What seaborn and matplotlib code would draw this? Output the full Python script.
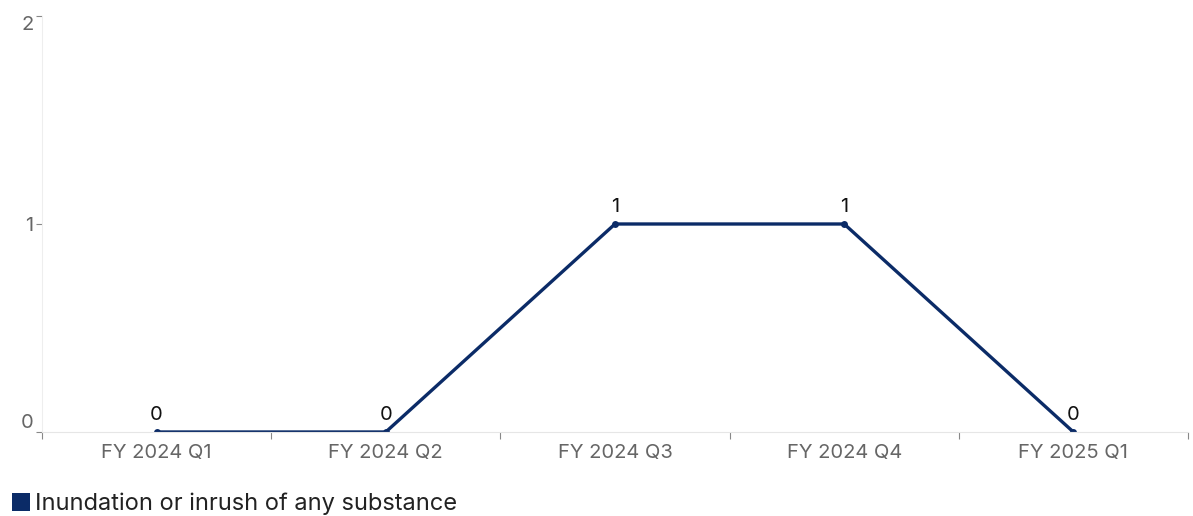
import matplotlib
matplotlib.use("Agg")
from matplotlib import pyplot as plt
from matplotlib.lines import Line2D
from matplotlib.ticker import FixedLocator
import pandas as pd
import seaborn as sns

# 数据
quarters = ['FY 2024 Q1', 'FY 2024 Q2', 'FY 2024 Q3', 'FY 2024 Q4', 'FY 2025 Q1']
counts = [0, 0, 1, 1, 0]
series_name = 'Inundation or inrush of any substance'

navy = '#0b2b67'
grey = '#666666'

sns.set_theme(style='white')
plt.rcParams['font.family'] = ['Inter', 'DejaVu Sans']

df = pd.DataFrame({'quarter': quarters, 'count': counts})
df['pos'] = range(len(df))

fig = plt.figure(figsize=(11.93, 5.16), dpi=100)
ax = fig.add_axes([0.0352, 0.1628, 0.9606, 0.8062])

sns.lineplot(data=df, x='pos', y='count', color=navy, linewidth=2.4,
             marker='o', markersize=5, markeredgewidth=0, ax=ax)

# 数据标签
for _, row in df.iterrows():
    ax.annotate(f"{row['count']}", (row['pos'], row['count']),
                xytext=(0, 6), textcoords='offset points',
                ha='center', va='bottom', fontsize=14.5, color='#111111')

ax.set_xlim(-0.5, len(quarters) - 0.5)
ax.set_ylim(0, 2)
ax.set_xticks(df['pos'])
ax.set_xticklabels(quarters)
ax.xaxis.set_minor_locator(FixedLocator([i - 0.5 for i in range(len(quarters) + 1)]))
ax.set_yticks([0, 1, 2])
ax.tick_params(axis='x', which='major', length=0, pad=9, labelsize=14.5, labelcolor=grey)
ax.tick_params(axis='x', which='minor', length=5, width=0.8, color='#888888', bottom=True)
ax.tick_params(axis='y', which='major', length=4, width=0.8, color='#888888', left=True,
               pad=2, labelsize=14.5, labelcolor=grey)
ylabels = ax.get_yticklabels()
ylabels[0].set_verticalalignment('bottom')
ylabels[-1].set_verticalalignment('top')
ax.set_xlabel('')
ax.set_ylabel('')

for side in ['top', 'right']:
    ax.spines[side].set_visible(False)
ax.spines['left'].set_color('#eeeeee')
ax.spines['bottom'].set_color('#e6e6e6')
ax.spines['left'].set_linewidth(0.8)
ax.spines['bottom'].set_linewidth(0.8)

handle = Line2D([], [], marker='s', linestyle='none', markersize=13,
                markerfacecolor=navy, markeredgewidth=0)
fig.legend([handle], [series_name], loc='lower left', bbox_to_anchor=(-0.004, -0.026),
           frameon=False, fontsize=17, handletextpad=0.1, handlelength=1.0,
           borderaxespad=0.2, labelcolor='#222222')

fig.savefig('out.png', dpi=100)
